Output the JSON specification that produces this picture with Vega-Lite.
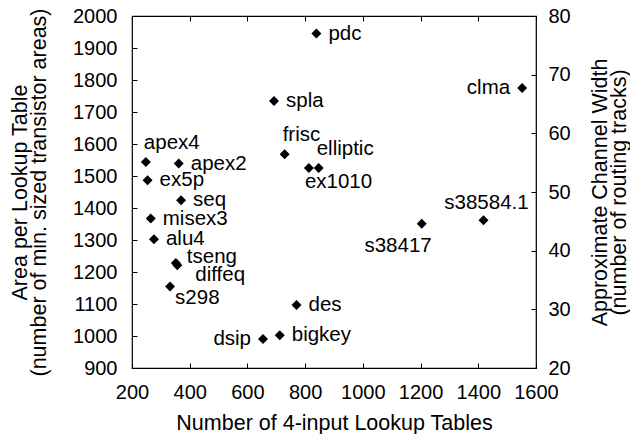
{
  "$schema": "https://vega.github.io/schema/vega-lite/v6.json",
  "width": 404,
  "height": 352,
  "autosize": {"type": "none"},
  "padding": {"left": 132, "top": 16, "right": 94, "bottom": 66},
  "background": "white",
  "config": {
    "view": {"stroke": "black", "strokeWidth": 1.2},
    "font": "Liberation Sans",
    "axis": {
      "grid": false,
      "domain": false,
      "tickColor": "black",
      "tickSize": -5,
      "labelFontSize": 20,
      "labelColor": "black",
      "labelOverlap": false,
      "labelFlush": false,
      "format": "d",
      "titleFontSize": 21.5,
      "titleFontWeight": "normal",
      "titleColor": "black",
      "titleLineHeight": 19
    },
    "text": {"font": "Liberation Sans", "fontSize": 20.5, "color": "black"}
  },
  "data": {
    "values": [
      {"name": "pdc", "luts": 839, "area": 1945},
      {"name": "spla", "luts": 692, "area": 1734},
      {"name": "frisc", "luts": 729, "area": 1568},
      {"name": "ex1010", "luts": 813, "area": 1525},
      {"name": "elliptic", "luts": 847, "area": 1525},
      {"name": "apex4", "luts": 248, "area": 1544},
      {"name": "apex2", "luts": 362, "area": 1539},
      {"name": "ex5p", "luts": 254, "area": 1487},
      {"name": "seq", "luts": 370, "area": 1424},
      {"name": "misex3", "luts": 265, "area": 1367},
      {"name": "alu4", "luts": 276, "area": 1302},
      {"name": "tseng", "luts": 352, "area": 1228},
      {"name": "diffeq", "luts": 357, "area": 1221},
      {"name": "s298", "luts": 332, "area": 1155},
      {"name": "des", "luts": 770, "area": 1097},
      {"name": "dsip", "luts": 654, "area": 991},
      {"name": "bigkey", "luts": 712, "area": 1002},
      {"name": "s38417", "luts": 1204, "area": 1351},
      {"name": "s38584.1", "luts": 1418, "area": 1362},
      {"name": "clma", "luts": 1552, "area": 1775}
    ]
  },
  "layer": [
    {
      "encoding": {
        "x": {"field": "luts", "type": "quantitative", "scale": {"domain": [200, 1600], "nice": false},
              "axis": {"title": "Number of 4-input Lookup Tables", "values": [200,400,600,800,1000,1200,1400,1600], "labelPadding": 19, "titlePadding": 10}},
        "y": {"field": "area", "type": "quantitative", "scale": {"domain": [900, 2000], "nice": false, "zero": false},
              "axis": {"title": ["Area per Lookup Table", "(number of min. sized transistor areas)"], "values": [900,1000,1100,1200,1300,1400,1500,1600,1700,1800,1900,2000], "labelPadding": 20, "titlePadding": 22}},
        "text": {"field": "name"}
      },
      "layer": [
        {"mark": {"type": "point", "shape": "diamond", "filled": true, "color": "black", "size": 100, "opacity": 1}},
        {"transform": [{"filter": {"field": "name", "oneOf": ["pdc","spla","apex2","ex5p","seq","misex3","alu4","des","bigkey"]}}],
         "mark": {"type": "text", "align": "left", "baseline": "middle", "dx": 12}},
        {"transform": [{"filter": {"field": "name", "oneOf": ["dsip","clma"]}}],
         "mark": {"type": "text", "align": "right", "baseline": "middle", "dx": -12}},
        {"transform": [{"filter": {"field": "name", "oneOf": ["frisc","elliptic","apex4"]}}],
         "mark": {"type": "text", "align": "left", "baseline": "middle", "dx": -2, "dy": -19}},
        {"transform": [{"filter": {"field": "name", "equal": "ex1010"}}],
         "mark": {"type": "text", "align": "left", "baseline": "middle", "dx": -4, "dy": 14}},
        {"transform": [{"filter": {"field": "name", "equal": "s298"}}],
         "mark": {"type": "text", "align": "left", "baseline": "middle", "dx": 5, "dy": 12}},
        {"transform": [{"filter": {"field": "name", "equal": "tseng"}}],
         "mark": {"type": "text", "align": "left", "baseline": "middle", "dx": 11, "dy": -6}},
        {"transform": [{"filter": {"field": "name", "equal": "diffeq"}}],
         "mark": {"type": "text", "align": "left", "baseline": "middle", "dx": 18, "dy": 10}},
        {"transform": [{"filter": {"field": "name", "equal": "s38417"}}],
         "mark": {"type": "text", "align": "right", "baseline": "middle", "dx": 10, "dy": 22}},
        {"transform": [{"filter": {"field": "name", "equal": "s38584.1"}}],
         "mark": {"type": "text", "align": "center", "baseline": "middle", "dx": 3, "dy": -17}}
      ]
    },
    {
      "data": {"values": [{"lut": 200, "cw": 20}, {"lut": 1600, "cw": 80}]},
      "mark": {"type": "point", "opacity": 0},
      "encoding": {
        "x": {"field": "lut", "type": "quantitative", "scale": {"domain": [200, 1600], "nice": false},
              "axis": {"orient": "top", "title": null, "labels": false, "values": [200,400,600,800,1000,1200,1400,1600]}},
        "y": {"field": "cw", "type": "quantitative", "scale": {"domain": [20, 80], "nice": false, "zero": false},
              "axis": {"orient": "right", "title": ["Approximate Channel Width", "(number of routing tracks)"], "titleAngle": 270, "values": [20,30,40,50,60,70,80], "labelPadding": 17, "titlePadding": 22}}
      }
    }
  ],
  "resolve": {"scale": {"x": "independent", "y": "independent"}}
}
